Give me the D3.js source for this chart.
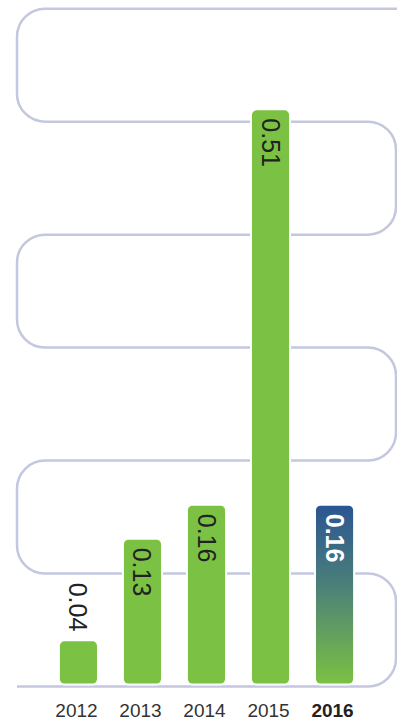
<!DOCTYPE html>
<html><head><meta charset="utf-8">
<script src="https://cdn.jsdelivr.net/npm/d3@7"></script>
<style>html,body{margin:0;padding:0;background:#fff;}svg{display:block;}</style>
</head><body>
<svg id="chart" width="397" height="723"></svg>
<script>
const years = ["2012","2013","2014","2015","2016"];
const values = [0.04, 0.13, 0.16, 0.51, 0.16];
const gridTicks = [0, 0.1, 0.2, 0.3, 0.4, 0.5, 0.6];
const highlightYear = "2016";

const W = 397, H = 723;
const svg = d3.select("#chart");
const y = d3.scaleLinear().domain([0, 0.6]).range([686.5, 8.7]);
const x = d3.scaleBand().domain(years).range([33, 380]).paddingInner(0.42).paddingOuter(0.42);

const green = "#7bc143";
const defs = svg.append("defs");
const grad = defs.append("linearGradient").attr("id","g16").attr("x1",0).attr("y1",0).attr("x2",0).attr("y2",1);
grad.append("stop").attr("offset","0%").attr("stop-color","#2b5593");
grad.append("stop").attr("offset","45%").attr("stop-color","#4b8078");
grad.append("stop").attr("offset","100%").attr("stop-color",green);

// serpentine grid line
const L = 17, R = 396, r = 28;
const p = d3.path();
const ys = gridTicks.map(t => y(t));
p.moveTo(L, ys[0]);
for (let i = 0; i < ys.length - 1; i++) {
  const a = ys[i], b = ys[i+1];
  if (i % 2 === 0) {
    p.arcTo(R, a, R, b, r);
    p.arcTo(R, b, L, b, r);
  } else {
    p.arcTo(L, a, L, b, r);
    p.arcTo(L, b, R, b, r);
  }
}
p.lineTo(W + 10, ys[ys.length-1]);
svg.append("path").attr("d", p.toString()).attr("fill","none")
  .attr("stroke","#c3c7df").attr("stroke-width",2.5);

// bars
const bw = x.bandwidth();
svg.selectAll("rect.bar").data(years).join("rect")
  .attr("class","bar")
  .attr("x", d => x(d))
  .attr("y", (d,i) => y(values[i]))
  .attr("width", bw)
  .attr("height", (d,i) => y(0) - 3 - y(values[i]))
  .attr("rx", 4.5).attr("ry", 4.5)
  .attr("fill", d => d === highlightYear ? "url(#g16)" : green)
  .attr("stroke","#fff").attr("stroke-width",4).attr("paint-order","stroke");

// value labels (rotated)
svg.selectAll("text.val").data(years).join("text")
  .attr("class","val")
  .each(function(d,i){
    const cx = x(d) + bw/2;
    const inside = values[i] > 0.08;
    const ty = inside ? y(values[i]) + 8 : y(values[i]) - 10;
    d3.select(this)
      .attr("x", cx).attr("y", ty)
      .attr("dy", "0.36em")
      .attr("text-anchor", inside ? "start" : "end")
      .attr("transform", `rotate(90,${cx},${ty})`);
  })
  .attr("font-family","'Liberation Sans', Arial, sans-serif")
  .attr("font-size", 25)
  .attr("font-weight", d => d === highlightYear ? 700 : 400)
  .attr("fill", d => d === highlightYear ? "#fff" : "#222")
  .text((d,i) => values[i].toFixed(2));

// year axis labels
svg.selectAll("text.year").data(years).join("text")
  .attr("class","year")
  .attr("x", d => x(d) + bw/2 - 2)
  .attr("y", 717)
  .attr("text-anchor","middle")
  .attr("font-family","'Liberation Sans', Arial, sans-serif")
  .attr("font-size", 19)
  .attr("font-weight", d => d === highlightYear ? 700 : 400)
  .attr("fill", d => d === highlightYear ? "#222" : "#333")
  .text(d => d);
</script>
</body></html>
